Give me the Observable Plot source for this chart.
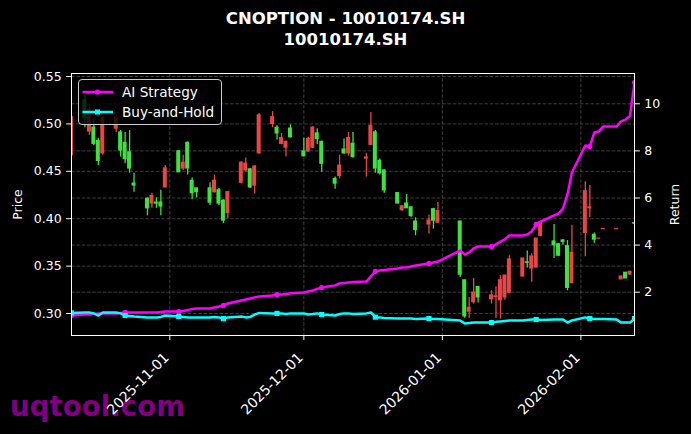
<!DOCTYPE html>
<html><head><meta charset="utf-8">
<script src="https://cdn.jsdelivr.net/npm/d3@7"></script>
<script src="https://cdn.jsdelivr.net/npm/@observablehq/plot@0.6"></script>
<style>
html,body{margin:0;padding:0;background:#000;}
#fig{position:relative;width:691px;height:434px;background:#000;overflow:hidden;font-family:"DejaVu Sans",sans-serif;}
#wm{position:absolute;left:10px;top:391px;font-weight:bold;font-size:27.7px;line-height:1.164;color:#800080;white-space:nowrap;}
#title{position:relative;height:50px;box-sizing:border-box;padding-top:8px;text-align:center;color:#fff;font-weight:bold;font-size:16.5px;line-height:21px;}
#chart{position:relative;height:384px;}
#legend{position:absolute;left:78px;top:79px;width:144px;height:46px;box-sizing:border-box;border:1px solid #cccccc;border-radius:4px;background:rgba(0,0,0,0.8);}
.li{position:absolute;left:0;width:142px;height:20px;}
.li svg{position:absolute;left:3px;top:0;}
.li span{position:absolute;left:43px;top:0;line-height:20px;font-size:13.6px;color:#fff;white-space:nowrap;}
</style></head>
<body>
<div id="fig">
<div id="wm">uqtool.com</div>
<div id="title">CNOPTION - 10010174.SH<br>10010174.SH</div>
<div id="chart"></div>
<div id="legend">
 <div class="li" style="top:2px"><svg width="32" height="20"><line x1="0.5" y1="10" x2="31" y2="10" stroke="#ff00ff" stroke-width="2.5"/><circle cx="15.5" cy="10" r="2.6" fill="#ff00ff"/></svg><span>AI Strategy</span></div>
 <div class="li" style="top:22px"><svg width="32" height="20"><line x1="0.5" y1="10" x2="31" y2="10" stroke="#00ffff" stroke-width="2.5"/><rect x="13" y="7.5" width="5" height="5" fill="#00ffff"/></svg><span>Buy-and-Hold</span></div>
</div>
</div>
<script>
// ---- data ----
const dates = [
"2025-10-10","2025-10-13","2025-10-14","2025-10-15","2025-10-16","2025-10-17",
"2025-10-20","2025-10-21","2025-10-22","2025-10-23","2025-10-24",
"2025-10-27","2025-10-28","2025-10-29","2025-10-30","2025-10-31",
"2025-11-03","2025-11-04","2025-11-05","2025-11-06","2025-11-07",
"2025-11-10","2025-11-11","2025-11-12","2025-11-13","2025-11-14",
"2025-11-17","2025-11-18","2025-11-19","2025-11-20","2025-11-21",
"2025-11-24","2025-11-25","2025-11-26","2025-11-27","2025-11-28",
"2025-12-01","2025-12-02","2025-12-03","2025-12-04","2025-12-05",
"2025-12-08","2025-12-09","2025-12-10","2025-12-11","2025-12-12",
"2025-12-15","2025-12-16","2025-12-17","2025-12-18","2025-12-19",
"2025-12-22","2025-12-23","2025-12-24","2025-12-25","2025-12-26",
"2025-12-29","2025-12-30","2025-12-31",
"2026-01-05","2026-01-06","2026-01-07","2026-01-08","2026-01-09",
"2026-01-12","2026-01-13","2026-01-14","2026-01-15","2026-01-16",
"2026-01-19","2026-01-20","2026-01-21","2026-01-22","2026-01-23",
"2026-01-26","2026-01-27","2026-01-28","2026-01-29","2026-01-30",
"2026-02-02","2026-02-03","2026-02-04","2026-02-05","2026-02-06",
"2026-02-09","2026-02-10","2026-02-11","2026-02-12","2026-02-13"];

const open = [0.467,0.525,0.492,0.496,0.482,0.469, 0.495,0.491,0.480,0.470,0.437, 0.421,0.416,0.417,0.417,0.433,
0.471,0.453,0.480,0.440,0.432, 0.432,0.428,0.430,0.419,0.406, 0.438,0.451,0.452,0.435,0.469, 0.500,0.496,0.479,0.475,0.495,
0.471,0.471,0.475,0.490,0.481, 0.442,0.445,0.473,0.469,0.479, 0.4635,0.478,0.491,0.461,0.451, 0.427,0.409,0.416,0.412,0.397,
0.394,0.410,0.396, 0.397,0.335,0.302,0.312,0.328, 0.315,0.3175,0.314,0.317,0.322, 0.339,0.354,0.3475,0.3485,0.382,
0.376,0.373,0.377,0.371,0.332, 0.385,0.411,0.383,0.379,0.389, 0.389,0.336,0.343,0.341,0.3952];
const high = [0.509,0.530,0.520,0.505,0.485,0.508, 0.508,0.493,0.491,0.493,0.448, 0.422,0.427,0.422,0.430,0.456,
0.472,0.467,0.481,0.443,0.432, 0.438,0.446,0.432,0.420,0.429, 0.460,0.464,0.453,0.456,0.511, 0.513,0.498,0.490,0.482,0.499,
0.485,0.486,0.497,0.495,0.482, 0.444,0.467,0.484,0.491,0.491, 0.469,0.512,0.493,0.463,0.451, 0.427,0.414,0.4255,0.412,0.401,
0.404,0.411,0.417, 0.397,0.335,0.317,0.337,0.328, 0.324,0.328,0.340,0.340,0.361, 0.358,0.366,0.363,0.379,0.396,
0.394,0.374,0.378,0.377,0.393, 0.439,0.435,0.385,0.379,0.389, 0.389,0.339,0.343,0.344,0.3952];
const low = [0.465,0.496,0.488,0.477,0.456,0.467, 0.491,0.465,0.458,0.448,0.428, 0.403,0.411,0.411,0.403,0.433,
0.449,0.451,0.446,0.420,0.422, 0.414,0.427,0.414,0.395,0.400, 0.437,0.449,0.432,0.426,0.468, 0.496,0.483,0.478,0.465,0.485,
0.465,0.470,0.474,0.478,0.449, 0.431,0.442,0.468,0.466,0.464, 0.444,0.477,0.448,0.446,0.427, 0.416,0.408,0.411,0.401,0.382,
0.384,0.389,0.395, 0.338,0.295,0.295,0.310,0.311, 0.310,0.295,0.294,0.314,0.321, 0.339,0.348,0.333,0.3485,0.381,
0.358,0.360,0.372,0.324,0.332, 0.360,0.401,0.374,0.379,0.389, 0.389,0.336,0.337,0.341,0.3948];
const close = [0.507,0.506,0.515,0.479,0.461,0.506, 0.506,0.472,0.463,0.453,0.435, 0.411,0.424,0.416,0.413,0.453,
0.449,0.459,0.453,0.427,0.428, 0.417,0.440,0.416,0.398,0.428, 0.459,0.458,0.433,0.455,0.509, 0.507,0.490,0.485,0.481,0.486,
0.466,0.484,0.496,0.484,0.458, 0.437,0.456,0.469,0.485,0.465, 0.4645,0.498,0.453,0.448,0.430, 0.416,0.413,0.411,0.403,0.388,
0.398,0.398,0.408, 0.341,0.297,0.306,0.322,0.317, 0.319,0.318,0.335,0.340,0.357, 0.358,0.3535,0.360,0.379,0.396,
0.372,0.361,0.3755,0.327,0.364, 0.429,0.412,0.378,0.379,0.389, 0.389,0.339,0.337,0.344,0.3948];

const aiReturn = [1.01,1.05,1.05,1.07,1.10,1.10,1.10,1.12,1.14,1.14,
1.14,1.14,1.14,1.14,1.16,1.18,1.18,1.20,1.24,1.29,
1.31,1.31,1.35,1.39,1.44,1.52,1.65,1.69,1.73,1.78,
1.82,1.86,1.90,1.90,1.92,1.95,1.99,2.03,2.07,2.14,
2.20,2.29,2.37,2.39,2.41,2.43,2.45,2.67,2.88,2.92,
2.94,3.01,3.05,3.05,3.09,3.13,3.22,3.26,3.30,3.77,
3.60,3.69,3.86,3.94,3.94,4.03,4.15,4.24,4.41,4.41,
4.45,4.58,4.88,5.00,5.26,5.34,5.55,6.15,7.08,8.23,
8.19,8.78,8.82,9.04,9.04,9.25,9.33,9.50,10.90];
const bhReturn = [1.12,1.14,1.14,1.10,1.01,1.14,1.14,1.10,1.01,0.99,
0.97,0.93,0.93,0.93,0.95,1.01,0.97,0.95,0.93,0.93,
0.93,0.93,0.95,0.93,0.88,0.93,0.97,0.93,0.95,1.05,
1.12,1.10,1.10,1.10,1.07,1.10,1.10,1.05,1.07,1.10,
1.05,1.01,1.07,1.10,1.10,1.07,1.10,1.14,0.94,0.93,
0.90,0.88,0.88,0.88,0.88,0.86,0.88,0.86,0.86,0.80,
0.67,0.69,0.71,0.71,0.71,0.74,0.76,0.78,0.80,0.80,
0.82,0.84,0.84,0.82,0.84,0.84,0.84,0.71,0.80,0.93,
0.88,0.86,0.86,0.86,0.84,0.71,0.71,0.71,0.88];

const priceTicks = [0.30,0.35,0.40,0.45,0.50,0.55];
const returnTicks = [2,4,6,8,10];
const monthTicks = ["2025-11-01","2025-12-01","2026-01-01","2026-02-01"];
const xStart = "2025-10-10", xEnd = "2026-02-13";

// ---- build ----
const toDate = s => new Date(s + "T00:00:00Z");
const days = dates.map((s,i)=>({date: toDate(s), open: open[i], high: high[i], low: low[i], close: close[i], ai: aiReturn[i], bh: bhReturn[i], idx: i}));
const HALF = 0.45*864e5;
const RED = "#e84545", GREEN = "#3fe03f";
const up = d => d.close >= d.open;
const pDom = [0.2768, 0.5532], rDom = [0.161, 11.286];
const toP = r => pDom[0] + (r - rDom[0]) / (rDom[1] - rDom[0]) * (pDom[1] - pDom[0]);
const fromP = p => rDom[0] + (p - pDom[0]) / (pDom[1] - pDom[0]) * (rDom[1] - rDom[0]);
const grid = {stroke: "#4d4d4d", strokeWidth: 0.8, strokeDasharray: "3.7,1.6"};
const monthDates = monthTicks.map(toDate);
const marked = days.filter(d => d.idx % 8 === 0);

const chart = Plot.plot({
  width: 691, height: 384,
  marginTop: 23, marginBottom: 99, marginLeft: 71, marginRight: 57,
  style: {background: "transparent", color: "white", fontFamily: "DejaVu Sans", fontSize: "12.5px", overflow: "visible"},
  x: {type: "utc", domain: [toDate(xStart), toDate(xEnd)]},
  y: {domain: pDom},
  marks: [
    Plot.ruleX(monthDates, grid),
    Plot.ruleY(priceTicks, grid),
    Plot.ruleY(returnTicks.map(toP), grid),
    Plot.ruleX(days, {x: "date", y1: "low", y2: "high", stroke: d => up(d) ? RED : GREEN, strokeWidth: 1.3, clip: true}),
    Plot.rect(days, {x1: d => new Date(+d.date - HALF), x2: d => new Date(+d.date + HALF), y1: "open", y2: "close",
      fill: d => up(d) ? RED : GREEN, insetTop: -0.6, insetBottom: -0.6, clip: true}),
    Plot.line(days, {x: "date", y: d => toP(d.ai), stroke: "#ff00ff", strokeWidth: 2.5, clip: true}),
    Plot.line(days, {x: "date", y: d => toP(d.bh), stroke: "#00ffff", strokeWidth: 2.5, clip: true}),
    Plot.dot(marked, {x: "date", y: d => toP(d.ai), fill: "#ff00ff", r: 2.6, clip: true}),
    Plot.dot(marked, {x: "date", y: d => toP(d.bh), fill: "#00ffff", symbol: "square", r: 2.9, clip: true}),
    Plot.frame({stroke: "white", strokeWidth: 1}),
    Plot.axisY(priceTicks, {anchor: "left", tickFormat: d3.format(".2f"), tickSize: 4.9, tickPadding: 4.9, label: null, color: "white"}),
    Plot.axisY(returnTicks.map(toP), {anchor: "right", tickFormat: p => String(Math.round(fromP(p))), tickSize: 4.9, tickPadding: 4.9, label: null, color: "white"}),
    Plot.axisX(monthDates, {anchor: "bottom", tickFormat: () => "", tickSize: 4.9, label: null, color: "white"}),
    Plot.text(monthDates, {x: d => d, frameAnchor: "bottom", dy: 16, dx: -7, rotate: -45, textAnchor: "end", lineAnchor: "top",
      text: d => d3.utcFormat("%Y-%m-%d")(d), fill: "white", fontSize: 13.9}),
    Plot.text(["Price"], {frameAnchor: "left", dx: -54, rotate: -90, textAnchor: "middle", lineAnchor: "middle", fill: "white"}),
    Plot.text(["Return"], {frameAnchor: "right", dx: 40, rotate: -90, textAnchor: "middle", lineAnchor: "middle", fill: "white"})
  ]
});
document.getElementById("chart").appendChild(chart);
</script>
</body></html>
